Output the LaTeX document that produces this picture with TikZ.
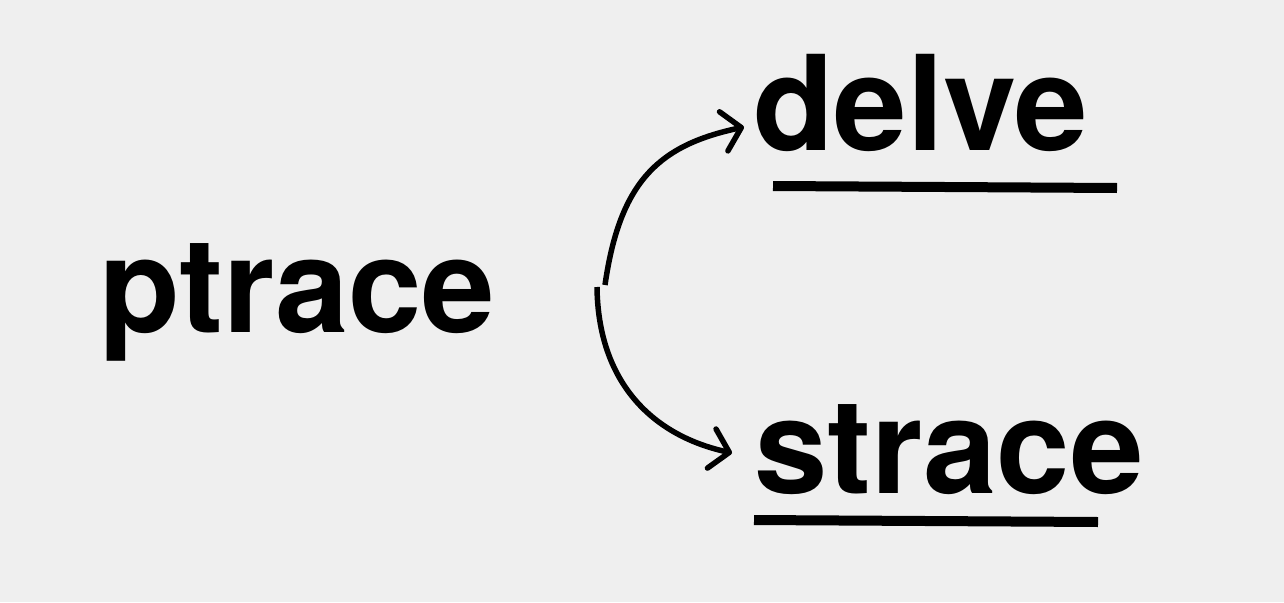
\documentclass[tikz,border=0pt]{standalone}
\usepackage{fontspec}
\setmainfont{TeX Gyre Heros}
\usetikzlibrary{arrows.meta}
\definecolor{paper}{RGB}{239,239,239}
\tikzset{
  word/.style={font=\fontsize{132pt}{132pt}\selectfont\bfseries, inner sep=0pt, anchor=base west},
  link/.style={line width=5.5pt, -{Straight Barb[length=18pt,width=40pt,line cap=round,line join=round]}},
  underbar/.style={line width=10pt}
}
\begin{document}
\begin{tikzpicture}[x=1pt,y=-1pt]
        % Background
        \fill[paper] (0,0) rectangle (1284,602);
        \useasboundingbox (0,0) rectangle (1284,602);

        % Words
        \node[word] (ptrace) at (99,332) {ptrace};
        \node[word] (delve) at (753,150) {delve};
        \node[word] (strace) at (754,493) {strace};

        % Split point
        \coordinate (fork) at (601,286);

        % Arrows to both tools
        \draw[link] ([xshift=4pt,yshift=1pt]fork) .. controls +(15,-105) and +(-84,18) .. ([xshift=-9pt,yshift=23pt]delve.base west);
        \draw[link] ([xshift=-4pt,yshift=-1pt]fork) .. controls +(1,93) and +(-82,-18) .. ([xshift=-22pt,yshift=40pt]strace.base west);

        % Underlines
        \draw[underbar] (773,186) -- (1117,188);
        \draw[underbar] (754,520) -- (1098,522);
      \end{tikzpicture}
\end{document}
